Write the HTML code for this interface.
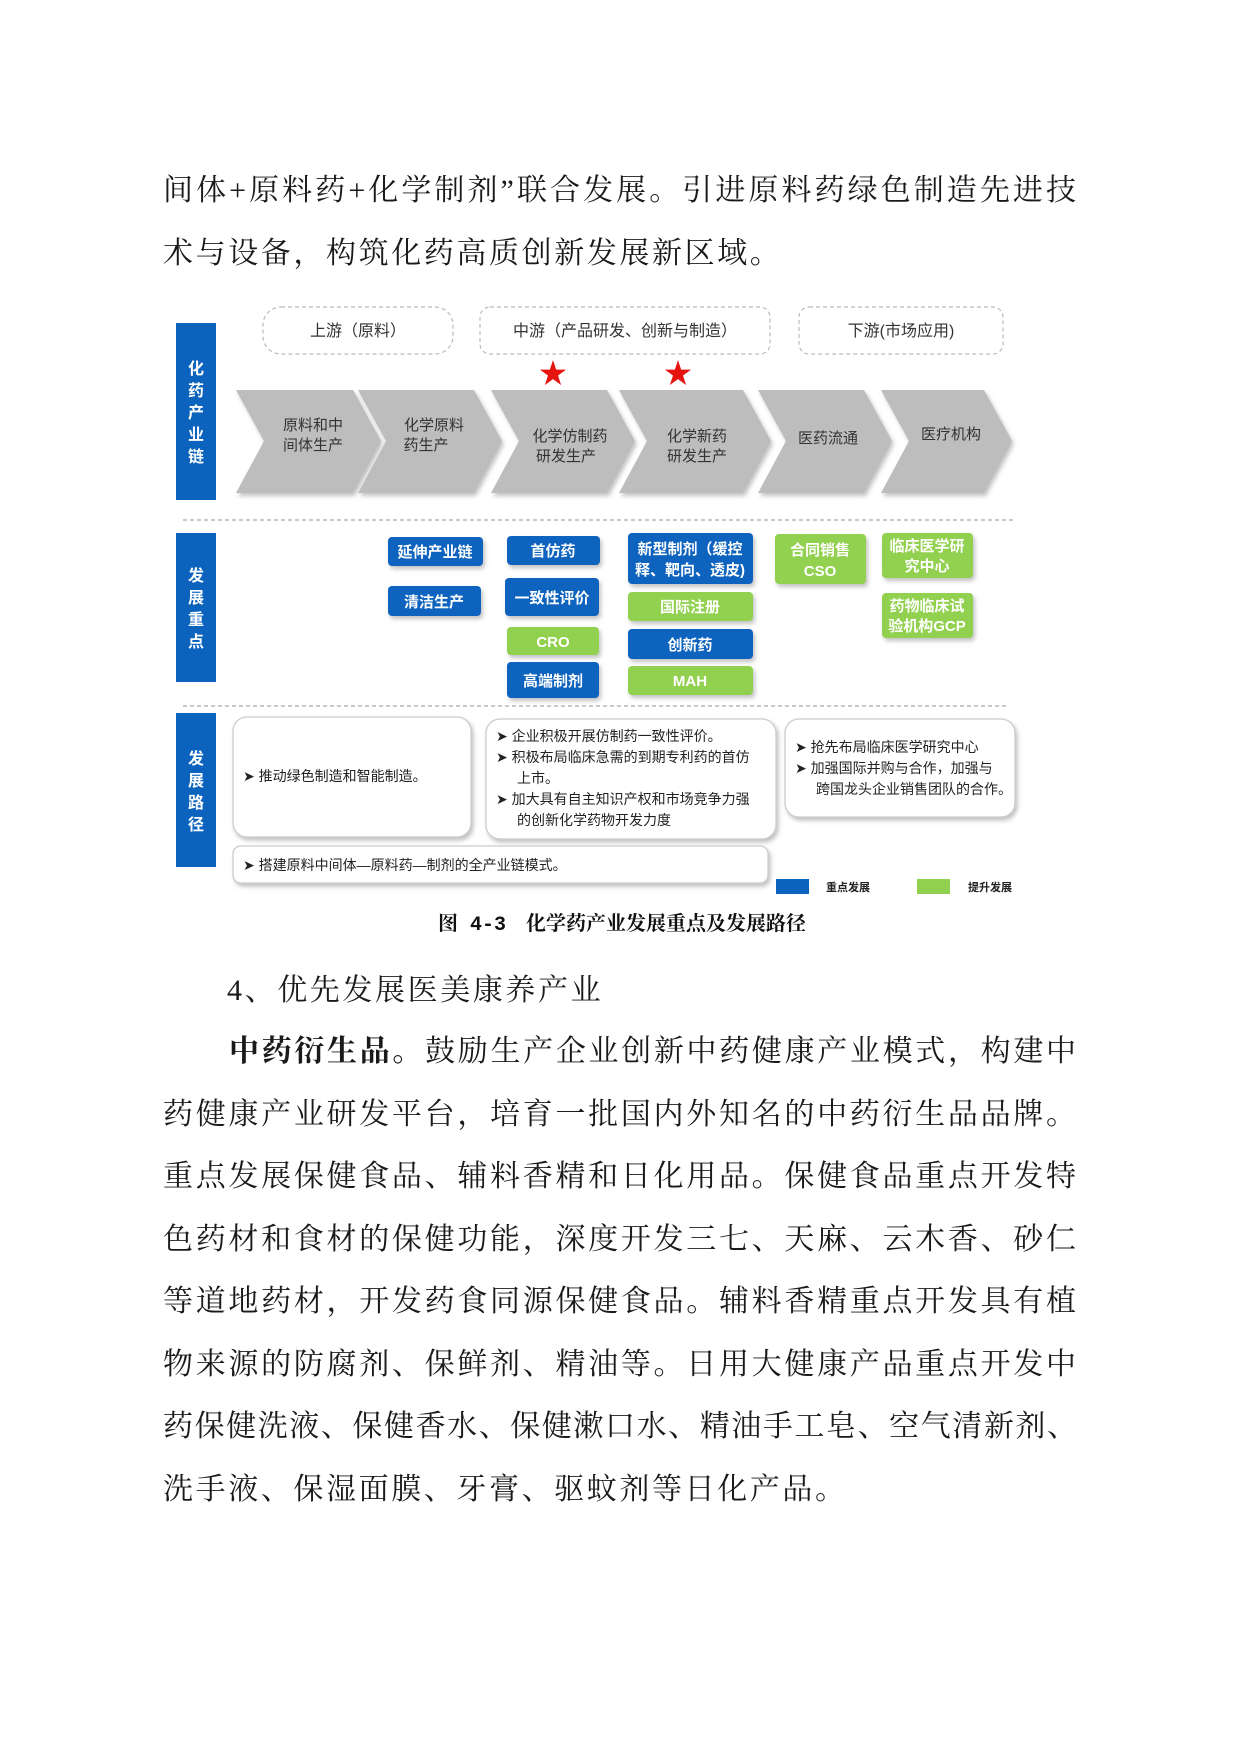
<!DOCTYPE html>
<html><head><meta charset="utf-8">
<style>
body{margin:0;background:#fff;}
.pg{position:relative;width:1240px;height:1754px;overflow:hidden;background:#fff;}
.t{position:absolute;left:163px;white-space:nowrap;font-family:"Liberation Serif","Noto Serif CJK SC",serif;font-size:30px;letter-spacing:2.6px;color:#1a1a1a;line-height:40px;}
.j{width:914px;white-space:normal;letter-spacing:1px;text-align:justify;text-align-last:justify;text-justify:inter-character;}
svg text{font-family:"Liberation Sans","Noto Sans CJK SC",sans-serif;}
</style></head><body><div class="pg">
<div class="t j" style="top:171px">间体+原料药+化学制剂”联合发展。引进原料药绿色制造先进技</div>
<div class="t" style="top:234px">术与设备，构筑化药高质创新发展新区域。</div>

<svg width="1240" height="1754" style="position:absolute;left:0;top:0" xmlns="http://www.w3.org/2000/svg">
<defs><filter id="sh" x="-10%" y="-10%" width="130%" height="130%"><feDropShadow dx="2" dy="3" stdDeviation="2" flood-color="#999" flood-opacity="0.6"/></filter></defs>
<g fill="#fff" stroke="#bbb" stroke-dasharray="4,3" stroke-width="1.2">
<rect x="263" y="307" width="190" height="47" rx="18"/>
<rect x="480" y="307" width="290" height="47" rx="10"/>
<rect x="799" y="307" width="204" height="47" rx="10"/>
</g>
<g font-size="16" fill="#333" text-anchor="middle">
<text x="358" y="336">上游（原料）</text>
<text x="625" y="336">中游（产品研发、创新与制造）</text>
<text x="901" y="336">下游(市场应用)</text>
</g>
<g fill="#e5140f" font-size="28" text-anchor="middle"><text x="553" y="383">★</text><text x="678" y="383">★</text></g>
<g fill="#0b63be">
<rect x="176" y="323" width="40" height="177"/>
<rect x="176" y="533" width="40" height="149"/>
<rect x="176" y="713" width="40" height="154"/>
</g>
<g fill="#fff" font-size="16" font-weight="bold" text-anchor="middle">
<text x="196" y="374">化</text><text x="196" y="396">药</text><text x="196" y="418">产</text><text x="196" y="440">业</text><text x="196" y="462">链</text>
<text x="196" y="581">发</text><text x="196" y="603">展</text><text x="196" y="625">重</text><text x="196" y="647">点</text>
<text x="196" y="764">发</text><text x="196" y="786">展</text><text x="196" y="808">路</text><text x="196" y="830">径</text>
</g>
<g fill="#bdbdbd" filter="url(#sh)">
<polygon points="236,390 353,390 381,441 353,493 236,493 264,441"/>
<polygon points="358,390 474,390 502,441 474,493 358,493 386,441"/>
<polygon points="491,390 607,390 635,441 607,493 491,493 519,441"/>
<polygon points="619,390 743,390 771,441 743,493 619,493 647,441"/>
<polygon points="758,390 864,390 892,441 864,493 758,493 786,441"/>
<polygon points="881,390 984,390 1012,441 984,493 881,493 909,441"/>
</g>
<g font-size="15" fill="#333" text-anchor="middle">
<text x="313" y="430">原料和中</text><text x="313" y="450">间体生产</text>
<text x="434" y="430">化学原料</text><text x="426" y="450">药生产</text>
<text x="570" y="441">化学仿制药</text><text x="566" y="461">研发生产</text>
<text x="697" y="441">化学新药</text><text x="697" y="461">研发生产</text>
<text x="828" y="443">医药流通</text><text x="951" y="439">医疗机构</text>
</g>
<g stroke="#aaa" stroke-dasharray="4,3" stroke-width="1.2">
<line x1="183" y1="520" x2="1016" y2="520"/><line x1="183" y1="706" x2="1006" y2="706"/>
</g>
<g filter="url(#sh)">
<rect x="388" y="537" width="95" height="29" rx="4" fill="#0b63be"/>
<rect x="388" y="586" width="93" height="30" rx="4" fill="#0b63be"/>
<rect x="507" y="536" width="93" height="29" rx="4" fill="#0b63be"/>
<rect x="505" y="578" width="94" height="38" rx="4" fill="#0b63be"/>
<rect x="507" y="627" width="92" height="28" rx="4" fill="#92d050"/>
<rect x="507" y="662" width="92" height="36" rx="4" fill="#0b63be"/>
<rect x="628" y="533" width="125" height="51" rx="4" fill="#0b63be"/>
<rect x="628" y="592" width="125" height="29" rx="4" fill="#92d050"/>
<rect x="628" y="629" width="125" height="30" rx="4" fill="#0b63be"/>
<rect x="628" y="666" width="125" height="29" rx="4" fill="#92d050"/>
<rect x="775" y="534" width="91" height="50" rx="4" fill="#92d050"/>
<rect x="882" y="533" width="91" height="45" rx="4" fill="#92d050"/>
<rect x="882" y="593" width="91" height="45" rx="4" fill="#92d050"/>
</g>
<g fill="#fff" font-size="15" font-weight="bold" text-anchor="middle">
<text x="435" y="557">延伸产业链</text>
<text x="434" y="607">清洁生产</text>
<text x="553" y="556">首仿药</text>
<text x="552" y="603">一致性评价</text>
<text x="553" y="647">CRO</text>
<text x="553" y="686">高端制剂</text>
<text x="690" y="554">新型制剂（缓控</text><text x="690" y="575">释、靶向、透皮)</text>
<text x="690" y="612">国际注册</text>
<text x="690" y="650">创新药</text>
<text x="690" y="686">MAH</text>
<text x="820" y="555">合同销售</text><text x="820" y="576">CSO</text>
<text x="927" y="551">临床医学研</text><text x="927" y="571">究中心</text>
<text x="927" y="611">药物临床试</text><text x="927" y="631">验机构GCP</text>
</g>
<g fill="#fff" stroke="#ccc" stroke-width="1.3" filter="url(#sh)">
<rect x="233" y="717" width="238" height="120" rx="14"/>
<rect x="486" y="719" width="290" height="120" rx="14"/>
<rect x="785" y="719" width="230" height="98" rx="14"/>
<rect x="233" y="846" width="535" height="37" rx="8"/>
</g>
<g font-size="14" fill="#222">
<text x="243" y="781">➤  推动绿色制造和智能制造。</text>
<text x="496" y="741">➤  企业积极开展仿制药一致性评价。</text>
<text x="496" y="762">➤  积极布局临床急需的到期专利药的首仿</text>
<text x="517" y="783">上市。</text>
<text x="496" y="804">➤  加大具有自主知识产权和市场竞争力强</text>
<text x="517" y="825">的创新化学药物开发力度</text>
<text x="795" y="752">➤  抢先布局临床医学研究中心</text>
<text x="795" y="773">➤  加强国际并购与合作，加强与</text>
<text x="816" y="794">跨国龙头企业销售团队的合作。</text>
<text x="243" y="870">➤  搭建原料中间体—原料药—制剂的全产业链模式。</text>
</g>
<rect x="776" y="879" width="33" height="15" fill="#0b63be"/>
<rect x="917" y="879" width="33" height="15" fill="#92d050"/>
<g font-size="11" font-weight="bold" fill="#222"><text x="826" y="891">重点发展</text><text x="968" y="891">提升发展</text></g>
<text x="622" y="930" text-anchor="middle" font-size="20" font-weight="bold" fill="#111" style="font-family:'Liberation Mono','Noto Serif CJK SC',serif">图 4-3　化学药产业发展重点及发展路径</text>
</svg>

<div class="t" style="top:971px;left:227px">4、优先发展医美康养产业</div>
<div class="t" style="top:1032px;left:229px;width:848px;letter-spacing:1px;white-space:normal;text-align:justify;text-align-last:justify;"><b>中药衍生品。</b>鼓励生产企业创新中药健康产业模式，构建中</div>
<div class="t j" style="top:1095px">药健康产业研发平台，培育一批国内外知名的中药衍生品品牌。</div>
<div class="t j" style="top:1157px">重点发展保健食品、辅料香精和日化用品。保健食品重点开发特</div>
<div class="t j" style="top:1220px">色药材和食材的保健功能，深度开发三七、天麻、云木香、砂仁</div>
<div class="t j" style="top:1282px">等道地药材，开发药食同源保健食品。辅料香精重点开发具有植</div>
<div class="t j" style="top:1345px">物来源的防腐剂、保鲜剂、精油等。日用大健康产品重点开发中</div>
<div class="t j" style="top:1407px;letter-spacing:0">药保健洗液、保健香水、保健漱口水、精油手工皂、空气清新剂、</div>
<div class="t" style="top:1470px">洗手液、保湿面膜、牙膏、驱蚊剂等日化产品。</div>
</div></body></html>
